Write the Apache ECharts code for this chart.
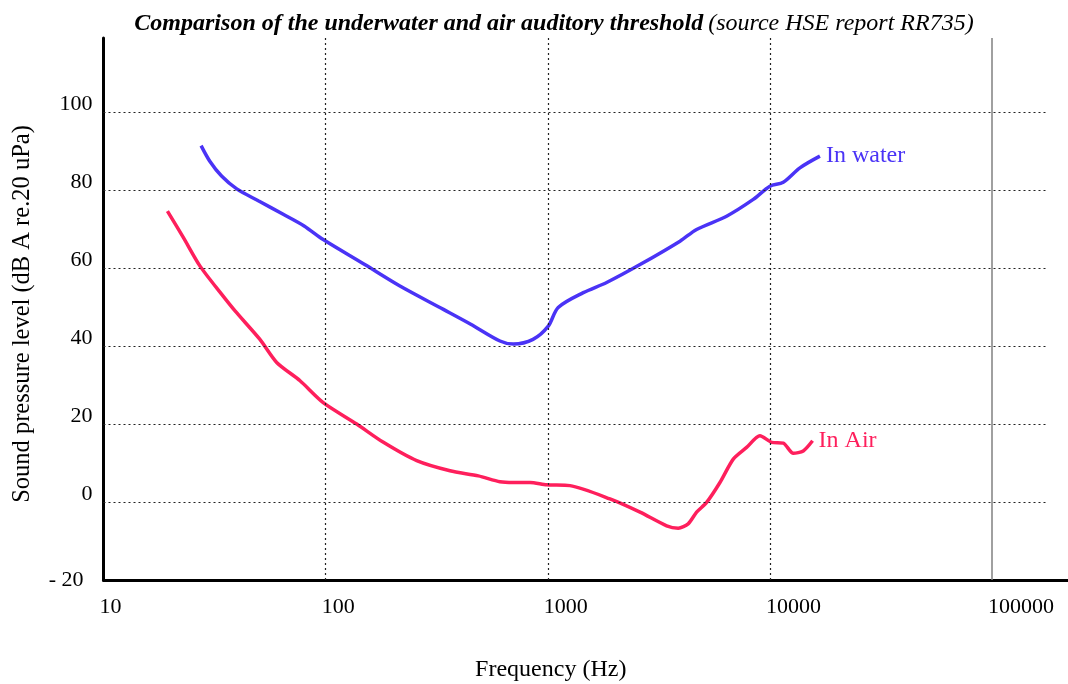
<!DOCTYPE html>
<html>
<head>
<meta charset="utf-8">
<title>Underwater and air auditory threshold</title>
<script src="https://cdn.jsdelivr.net/npm/echarts@6/dist/echarts.min.js"></script>
<style>
  html, body { margin: 0; padding: 0; background: #fff; }
  #chart { width: 1068px; height: 684px; }
</style>
</head>
<body>
<div id="chart"></div>
<script>
// Hearing threshold curves (frequency in Hz, level in dB)
const waterFreq  = [27.5, 30.1, 34, 39.8, 50, 64.4, 80, 97.5, 150, 216, 339, 450, 609, 700, 858, 1005, 1114, 1445, 1841, 2602, 3937, 4677, 6383, 8414, 10000, 11480, 13650, 16790];
const waterLevel = [91.4, 87.4, 83.6, 80.3, 77.2, 73.8, 70.8, 67.3, 60.9, 55.4, 49.4, 45.6, 41.3, 40.5, 41.7, 45.1, 49.9, 53.7, 56.3, 60.9, 66.9, 69.9, 73.3, 77.6, 81.0, 82.0, 85.7, 88.7];

const airFreq  = [19.4, 22.9, 27.2, 34, 39.1, 50.6, 60.2, 76.7, 97.5, 138, 182, 257, 363, 487, 609, 700, 832, 988, 1259, 1905, 2602, 3428, 3867, 4285, 4677, 5188, 5957, 6839, 7852, 9016, 10180, 11480, 12740, 14130, 15560];
const airLevel = [74.6, 67.8, 60.5, 53.3, 49.0, 41.7, 35.8, 31.1, 25.5, 20.0, 15.3, 10.6, 8.0, 6.7, 5.2, 5.0, 5.0, 4.4, 4.2, 0.8, -2.6, -6.1, -6.7, -5.6, -2.6, -0.1, 5.0, 11.0, 14.0, 17.0, 15.3, 15.1, 12.5, 13.1, 15.7];

const xDecades   = [100, 1000, 10000];   // dotted vertical guides
const xOuterLine = 100000;               // solid grey guide
const yGridLevels = [0, 20, 40, 60, 80, 100];

const SERIF = '"Liberation Serif", "Times New Roman", serif';
const WATER_COLOR = '#4a33f6';
const AIR_COLOR = '#fe1f5c';

const X_MIN = 10, X_MAX = 219700, GRID_X_END = 176600;
const Y_MIN = -20, Y_MAX = 119;

const zip = (xs, ys) => xs.map((x, i) => [x, ys[i]]);

const chart = echarts.init(document.getElementById('chart'), null, { renderer: 'canvas' });

const dotted = { color: '#222', width: 1.2, type: [2, 3] };
const tickFont = { fontFamily: SERIF, fontSize: 22, color: '#000' };

chart.setOption({
  animation: false,
  backgroundColor: '#fff',
  title: {
    left: 549,
    top: 7,
    textAlign: 'center',
    text: '{b|Comparison of the underwater and air auditory threshold} {n|(source HSE report RR735)}',
    textStyle: {
      rich: {
        b: { fontFamily: SERIF, fontSize: 24, fontStyle: 'italic', fontWeight: 'bold', color: '#000' },
        n: { fontFamily: SERIF, fontSize: 24, fontStyle: 'italic', fontWeight: 'normal', color: '#000' }
      }
    }
  },
  grid: { left: 103.5, right: 0, top: 38, bottom: 104, containLabel: false, outerBoundsMode: 'none' },
  xAxis: {
    type: 'log',
    logBase: 10,
    min: X_MIN,
    max: X_MAX,
    name: 'Frequency (Hz)',
    nameLocation: 'middle',
    nameGap: 78,
    nameTextStyle: { fontFamily: SERIF, fontSize: 24, color: '#000', padding: [0, 70, 0, 0] },
    axisLine: { show: true, onZero: false, lineStyle: { color: '#000', width: 3 } },
    axisTick: { show: false },
    splitLine: { show: false },
    axisLabel: {
      ...tickFont,
      align: 'left', margin: 16, padding: [0, 0, 0, -4],
      showMaxLabel: false,
      formatter: v => {
        const e = Math.log10(v);
        return Math.abs(e - Math.round(e)) < 1e-6 ? String(Math.round(v)) : '';
      }
    }
  },
  yAxis: {
    type: 'value',
    min: Y_MIN,
    max: Y_MAX,
    interval: 20,
    name: 'Sound pressure level (dB A re.20 uPa)',
    nameLocation: 'middle',
    nameGap: 68,
    nameRotate: 90,
    nameTextStyle: { fontFamily: SERIF, fontSize: 24.5, color: '#000', padding: [0, 10, 0, 0] },
    axisLine: { show: true, lineStyle: { color: '#000', width: 3 } },
    axisTick: { show: false },
    splitLine: { show: false },
    axisLabel: {
      ...tickFont,
      margin: 11,
      showMaxLabel: false,
      formatter: v => v === -20 ? '{lo|- 20}' : (v % 20 === 0 ? '{up|' + v + '}' : ''),
      rich: {
        up: { ...tickFont, padding: [0, 0, 15, 0] },
        lo: { ...tickFont, padding: [0, 9, 0, 0] }
      }
    }
  },
  series: [
    {
      // guide lines only
      type: 'line',
      data: [],
      silent: true,
      markLine: {
        silent: true,
        symbol: 'none',
        label: { show: false },
        animation: false,
        data: [
          ...yGridLevels.map(y => [
            { coord: [X_MIN, y], lineStyle: dotted },
            { coord: [GRID_X_END, y] }
          ]),
          ...xDecades.map(x => ({ xAxis: x, lineStyle: dotted })),
          { xAxis: xOuterLine, lineStyle: { color: '#808080', width: 1.5, type: 'solid' } }
        ]
      }
    },
    {
      name: 'In water',
      type: 'line',
      data: zip(waterFreq, waterLevel),
      smooth: 0.3,
      showSymbol: false,
      lineStyle: { color: WATER_COLOR, width: 3.5 },
      itemStyle: { color: WATER_COLOR },
      endLabel: {
        show: true,
        formatter: '{a}',
        fontFamily: SERIF, fontSize: 24, color: WATER_COLOR, distance: 6
      }
    },
    {
      name: 'In Air',
      type: 'line',
      data: zip(airFreq, airLevel),
      smooth: 0.25,
      showSymbol: false,
      lineStyle: { color: AIR_COLOR, width: 3.5 },
      itemStyle: { color: AIR_COLOR },
      endLabel: {
        show: true,
        formatter: '{a}',
        fontFamily: SERIF, fontSize: 24, color: AIR_COLOR, distance: 6
      }
    }
  ]
});
</script>
</body>
</html>
